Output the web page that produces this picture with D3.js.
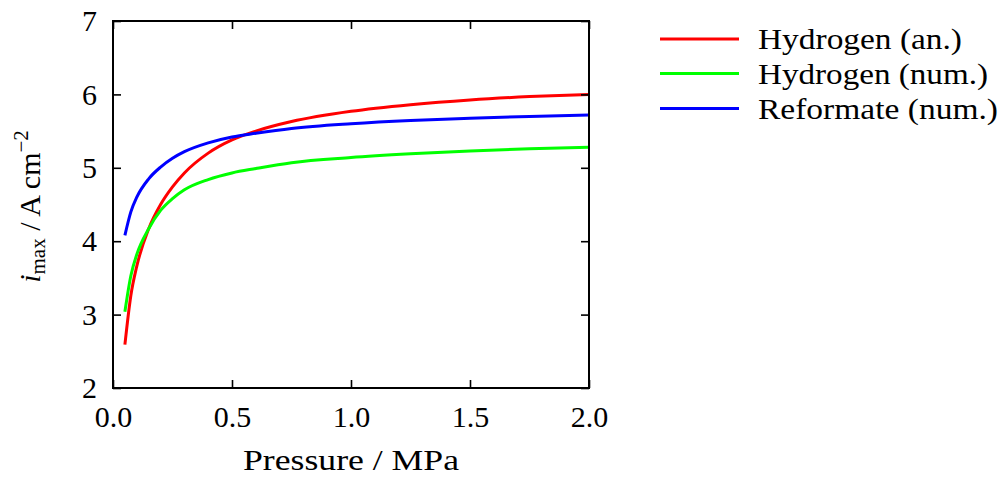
<!DOCTYPE html>
<html>
<head>
<meta charset="utf-8">
<script src="https://cdn.jsdelivr.net/npm/d3@7"></script>
<style>body{margin:0;background:#fff}</style>
</head>
<body>
<svg id="chart" width="1005" height="481"></svg>
<script>
// ---- data ----
const pressure = [0.05, 0.075, 0.1, 0.15, 0.2, 0.25, 0.3, 0.4, 0.5, 0.6, 0.75, 1.0, 1.25, 1.5, 1.75, 2.0];
const hydrogenAn   = [2.59, 3.26, 3.66, 4.17, 4.50, 4.74, 4.93, 5.20, 5.38, 5.50, 5.63, 5.77, 5.86, 5.925, 5.97, 6.00];
const hydrogenNum  = [3.04, 3.53, 3.82, 4.17, 4.42, 4.58, 4.70, 4.84, 4.93, 4.99, 5.07, 5.14, 5.19, 5.23, 5.26, 5.28];
const reformateNum = [4.08, 4.40, 4.60, 4.85, 5.01, 5.13, 5.22, 5.34, 5.42, 5.47, 5.535, 5.60, 5.645, 5.675, 5.70, 5.72];
const seriesNames = ["Hydrogen (an.)", "Hydrogen (num.)", "Reformate (num.)"];
const seriesColors = ["#ff0000", "#00ff00", "#0000ff"];
const xTicks = [0.0, 0.5, 1.0, 1.5, 2.0];
const yTicks = [2, 3, 4, 5, 6, 7];

const seriesValues = [hydrogenAn, hydrogenNum, reformateNum];

const svg = d3.select("#chart");
const L = 113, R = 589, T = 21, B = 388;
const x = d3.scaleLinear().domain([0, 2]).range([L, R]);
const y = d3.scaleLinear().domain([2, 7]).range([B, T]);
const FF = "Liberation Serif";

function serifText(sel, size) {
  return sel.style("font-family", `"${FF}"`).style("font-size", (size || 30) + "px");
}

const line = d3.line().x(d => x(d[0])).y(d => y(d[1])).curve(d3.curveMonotoneX);
seriesValues.forEach((vals, i) => {
  svg.append("path")
    .datum(pressure.map((p, j) => [p, vals[j]]))
    .attr("fill", "none")
    .attr("stroke", seriesColors[i])
    .attr("stroke-width", 3)
    .attr("d", line);
});

function styleAxis(g) {
  g.attr("font-family", null).attr("font-size", null);
  g.select(".domain").remove();
  g.selectAll(".tick line").attr("stroke", "#000").attr("stroke-width", 1.6);
  serifText(g.selectAll(".tick text").attr("fill", "#000"), 30);
}
svg.append("g").attr("transform", `translate(0,${B})`)
  .call(d3.axisBottom(x).tickValues(xTicks).tickFormat(d3.format(".1f")).tickSize(-8).tickPadding(18))
  .call(styleAxis);
svg.append("g").attr("transform", `translate(0,${T})`)
  .call(d3.axisTop(x).tickValues(xTicks).tickFormat("").tickSize(-8))
  .call(styleAxis);
svg.append("g").attr("transform", `translate(${L},0)`)
  .call(d3.axisLeft(y).tickValues(yTicks).tickFormat(d3.format("d")).tickSize(-8).tickPadding(16))
  .call(styleAxis);
svg.append("g").attr("transform", `translate(${R},0)`)
  .call(d3.axisRight(y).tickValues(yTicks).tickFormat("").tickSize(-8))
  .call(styleAxis);

svg.append("rect")
  .attr("x", L).attr("y", T).attr("width", R - L).attr("height", B - T)
  .attr("fill", "none").attr("stroke", "#000").attr("stroke-width", 2);

serifText(svg.append("text"), 30)
  .attr("x", (L + R) / 2).attr("y", 470)
  .attr("text-anchor", "middle")
  .attr("textLength", 216).attr("lengthAdjust", "spacingAndGlyphs")
  .text("Pressure / MPa");

const yt = serifText(svg.append("text"), 30)
  .attr("transform", `translate(40,${(T + B) / 2 + 2}) rotate(-90)`)
  .attr("text-anchor", "middle");
yt.append("tspan").style("font-style", "italic").text("i");
yt.append("tspan").style("font-size", "21px").attr("dy", 5).text("max");
yt.append("tspan").attr("dy", -5).text(" / A cm");
yt.append("tspan").style("font-size", "21px").attr("dy", -12).text("\u22122");

const legendY = [39, 73.5, 108.5];
const legendW = [204, 230, 240];
seriesNames.forEach((name, i) => {
  svg.append("line")
    .attr("x1", 660).attr("x2", 739)
    .attr("y1", legendY[i]).attr("y2", legendY[i])
    .attr("stroke", seriesColors[i]).attr("stroke-width", 3);
  serifText(svg.append("text"), 30)
    .attr("x", 758).attr("y", legendY[i] + 10)
    .attr("textLength", legendW[i]).attr("lengthAdjust", "spacingAndGlyphs")
    .text(name);
});
</script>
</body>
</html>
